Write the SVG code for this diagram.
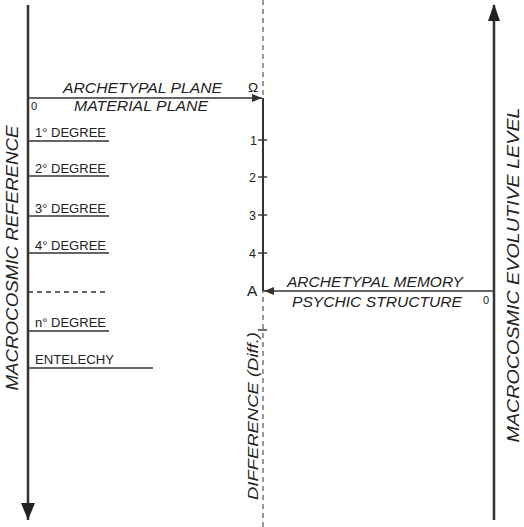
<svg xmlns="http://www.w3.org/2000/svg" width="524" height="527" viewBox="0 0 524 527">
<style>
text{font-family:"Liberation Sans",Arial,sans-serif;fill:#222}
.it{font-style:italic}
.big{font-size:15px}
.deg{font-size:12.5px}
.num{font-size:12.5px}
.axis{stroke:#333;stroke-width:2.5;fill:none}
.thin{stroke:#333;stroke-width:1.4;fill:none}
.dash{stroke:#777;stroke-width:1.5;stroke-dasharray:5 4;fill:none}
</style>
<defs>
<marker id="ah" viewBox="0 0 10 8" refX="10" refY="4" markerWidth="10" markerHeight="8" markerUnits="userSpaceOnUse" orient="auto">
<path d="M0,0 L10,4 L0,8 Z" fill="#333"/>
</marker>
</defs>
<g id="connectors">
<line class="dash" x1="263" y1="0" x2="263" y2="527"/>
<line class="thin" x1="263" y1="98" x2="263" y2="291" style="stroke-width:2"/>
<line class="axis" x1="28" y1="5" x2="28" y2="520"/>
<path d="M21,503 L28,520 L35,503 Z" fill="#222"/>
<line class="axis" x1="494" y1="520" x2="494" y2="5"/>
<path d="M488,21 L494,4 L500,21 Z" fill="#222"/>
<line class="thin" x1="28" y1="98" x2="262" y2="98" marker-end="url(#ah)"/>
<line class="thin" x1="494" y1="291" x2="264" y2="291" marker-end="url(#ah)"/>
<line class="thin" x1="258" y1="140" x2="267" y2="140"/>
<line class="thin" x1="258" y1="177" x2="267" y2="177"/>
<line class="thin" x1="258" y1="215" x2="267" y2="215"/>
<line class="thin" x1="258" y1="253" x2="267" y2="253"/>
<line class="thin" x1="258" y1="330" x2="267" y2="330"/>
</g>
<g id="archetypal-plane">
<text class="it big" x="63" y="93" textLength="159" lengthAdjust="spacingAndGlyphs">ARCHETYPAL PLANE</text>
<text class="it big" x="74" y="111" textLength="134" lengthAdjust="spacingAndGlyphs">MATERIAL PLANE</text>
<text class="num" x="31" y="110" style="font-size:11px">0</text>
<text class="num" x="248" y="92" style="font-size:13.5px">Ω</text>
</g>
<g id="degrees">
<line class="thin" x1="28" y1="141" x2="109" y2="141"/>
<text class="deg" x="35" y="137" textLength="71" lengthAdjust="spacingAndGlyphs">1° DEGREE</text>
<line class="thin" x1="28" y1="176" x2="109" y2="176"/>
<text class="deg" x="35" y="173" textLength="71" lengthAdjust="spacingAndGlyphs">2° DEGREE</text>
<line class="thin" x1="28" y1="216" x2="109" y2="216"/>
<text class="deg" x="35" y="213" textLength="71" lengthAdjust="spacingAndGlyphs">3° DEGREE</text>
<line class="thin" x1="28" y1="253" x2="109" y2="253"/>
<text class="deg" x="35" y="250" textLength="71" lengthAdjust="spacingAndGlyphs">4° DEGREE</text>
<line class="thin" x1="28" y1="292" x2="109" y2="292" style="stroke-dasharray:5 4"/>
<line class="thin" x1="28" y1="331" x2="109" y2="331"/>
<text class="deg" x="35" y="327" textLength="71" lengthAdjust="spacingAndGlyphs">n° DEGREE</text>
<line class="thin" x1="28" y1="368" x2="153" y2="368"/>
<text class="deg" x="35" y="364" textLength="79" lengthAdjust="spacingAndGlyphs">ENTELECHY</text>
</g>
<g id="scale">
<text class="num" x="250" y="145">1</text>
<text class="num" x="249" y="182">2</text>
<text class="num" x="249" y="220">3</text>
<text class="num" x="249" y="258">4</text>
<text x="247" y="296" style="font-size:15.5px">A</text>
</g>
<g id="archetypal-memory">
<text class="it big" x="287" y="287" textLength="176" lengthAdjust="spacingAndGlyphs">ARCHETYPAL MEMORY</text>
<text class="it big" x="292" y="307" textLength="170" lengthAdjust="spacingAndGlyphs">PSYCHIC STRUCTURE</text>
<text class="num" x="483" y="304" style="font-size:11px">0</text>
</g>
<g id="macrocosmic-reference">
<text class="it" transform="translate(18,258) rotate(-90)" text-anchor="middle" style="font-size:16px" textLength="265" lengthAdjust="spacingAndGlyphs">MACROCOSMIC REFERENCE</text>
</g>
<g id="macrocosmic-evolutive-level">
<text class="it" transform="translate(519,275) rotate(-90)" text-anchor="middle" style="font-size:16px" textLength="335" lengthAdjust="spacingAndGlyphs">MACROCOSMIC EVOLUTIVE LEVEL</text>
</g>
<g id="difference">
<text class="it" transform="translate(258,416) rotate(-90)" text-anchor="middle" style="font-size:14px" textLength="168" lengthAdjust="spacingAndGlyphs">DIFFERENCE (Diff.)</text>
</g>
</svg>
